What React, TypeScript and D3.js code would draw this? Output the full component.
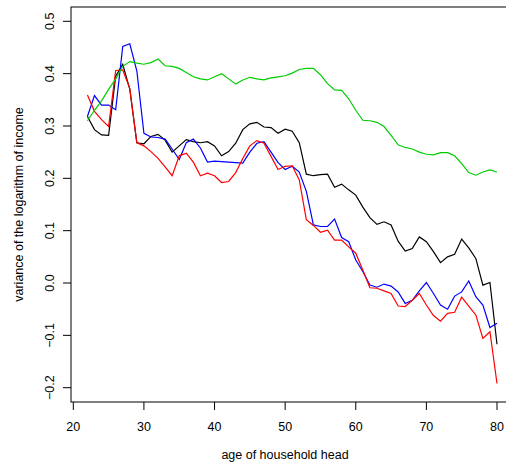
import React from "react";
import * as d3 from "d3";

const ages = d3.range(22, 81);
const xTicks = [20, 30, 40, 50, 60, 70, 80];
const yTicks = [-0.2, -0.1, 0.0, 0.1, 0.2, 0.3, 0.4, 0.5];
const yTickLabels = ["\u22120.2", "\u22120.1", "0.0", "0.1", "0.2", "0.3", "0.4", "0.5"];

const blackSeries = [
  0.318, 0.293, 0.283, 0.282, 0.395, 0.418, 0.370, 0.268, 0.266, 0.280,
  0.284, 0.273, 0.250, 0.262, 0.274, 0.270, 0.268, 0.270, 0.262, 0.243,
  0.251, 0.267, 0.293, 0.304, 0.307, 0.298, 0.297, 0.286, 0.294, 0.290,
  0.268, 0.208, 0.205, 0.207, 0.208, 0.183, 0.189, 0.178, 0.168, 0.145,
  0.125, 0.112, 0.117, 0.111, 0.080, 0.061, 0.066, 0.088, 0.079, 0.060,
  0.039, 0.050, 0.055, 0.084, 0.067, 0.047, -0.004, 0.001, -0.117,
];
const blueSeries = [
  0.318, 0.358, 0.340, 0.340, 0.331, 0.452, 0.457, 0.405, 0.286, 0.279,
  0.278, 0.275, 0.256, 0.236, 0.268, 0.275, 0.258, 0.231, 0.233, 0.232,
  0.231, 0.230, 0.229, 0.250, 0.267, 0.270, 0.250, 0.230, 0.217, 0.223,
  0.212, 0.175, 0.111, 0.108, 0.108, 0.122, 0.087, 0.079, 0.044, 0.022,
  -0.004, -0.008, -0.002, -0.006, -0.017, -0.039, -0.033, -0.015, 0.001, -0.020,
  -0.042, -0.050, -0.025, -0.017, 0.004, -0.026, -0.042, -0.085, -0.077,
];
const redSeries = [
  0.359, 0.328, 0.312, 0.299, 0.406, 0.407, 0.372, 0.268, 0.262, 0.251,
  0.238, 0.222, 0.205, 0.243, 0.248, 0.231, 0.205, 0.210, 0.205, 0.192,
  0.194, 0.211, 0.238, 0.262, 0.272, 0.267, 0.242, 0.217, 0.223, 0.224,
  0.197, 0.121, 0.110, 0.097, 0.101, 0.082, 0.082, 0.069, 0.057, 0.025,
  -0.009, -0.010, -0.015, -0.020, -0.044, -0.045, -0.033, -0.020, -0.042, -0.062,
  -0.073, -0.058, -0.056, -0.027, -0.044, -0.061, -0.106, -0.093, -0.192,
];
const greenSeries = [
  0.310, 0.330, 0.348, 0.370, 0.390, 0.414, 0.423, 0.420, 0.418, 0.421,
  0.428, 0.415, 0.414, 0.410, 0.402, 0.394, 0.390, 0.388, 0.394, 0.400,
  0.390, 0.380, 0.388, 0.393, 0.390, 0.388, 0.392, 0.394, 0.396, 0.401,
  0.408, 0.410, 0.410, 0.398, 0.381, 0.369, 0.368, 0.352, 0.330, 0.311,
  0.310, 0.307, 0.299, 0.282, 0.264, 0.259, 0.256, 0.250, 0.246, 0.245,
  0.249, 0.249, 0.243, 0.228, 0.211, 0.206, 0.212, 0.216, 0.212,
];

const series = [
  { name: "black", values: blackSeries, color: "#000000" },
  { name: "blue", values: blueSeries, color: "#0000FF" },
  { name: "red", values: redSeries, color: "#FF0000" },
  { name: "green", values: greenSeries, color: "#00CD00" },
];

export default function App() {
  const W = 506;
  const H = 467;
  const x = d3.scaleLinear().domain([20, 80]).range([73.3, 497]);
  const y = d3.scaleLinear().domain([-0.2, 0.5]).range([387.7, 21.3]);
  const x0 = 71, x1 = 513, yT = 7, yB = 402;
  const font = "'Liberation Sans', Arial, Helvetica, sans-serif";
  const line = d3
    .line<number>()
    .x((_, i) => x(ages[i]))
    .y((d) => y(d));

  return (
    <svg
      width={W}
      height={H}
      style={{ position: "absolute", left: 0, top: 0, background: "#fff" }}
      fontFamily={font}
    >
      <rect x={0} y={0} width={W} height={H} fill="#fff" />
      <rect x={x0} y={yT} width={x1 - x0} height={yB - yT} fill="none" stroke="#000" strokeWidth={1} />
      {series.map((s) => (
        <path key={s.name} d={line(s.values) || ""} fill="none" stroke={s.color} strokeWidth={1.2} />
      ))}
      {xTicks.map((t) => (
        <g key={"x" + t}>
          <line x1={x(t)} x2={x(t)} y1={yB} y2={yB + 8} stroke="#000" strokeWidth={1} />
          <text x={x(t)} y={431} textAnchor="middle" fontSize={12.5} fill="#000">
            {t}
          </text>
        </g>
      ))}
      {yTicks.map((t, i) => (
        <g key={"y" + t}>
          <line x1={x0 - 8} x2={x0} y1={y(t)} y2={y(t)} stroke="#000" strokeWidth={1} />
          <text
            transform={`translate(53.5,${y(t)}) rotate(-90)`}
            textAnchor="middle"
            fontSize={12.5}
            fill="#000"
          >
            {yTickLabels[i]}
          </text>
        </g>
      ))}
      <text x={285} y={459} textAnchor="middle" fontSize={12.5} fill="#000">
        age of household head
      </text>
      <text
        transform={`translate(22.5,${(yT + yB) / 2}) rotate(-90)`}
        textAnchor="middle"
        fontSize={12.5}
        fill="#000"
      >
        variance of the logarithm of income
      </text>
    </svg>
  );
}
